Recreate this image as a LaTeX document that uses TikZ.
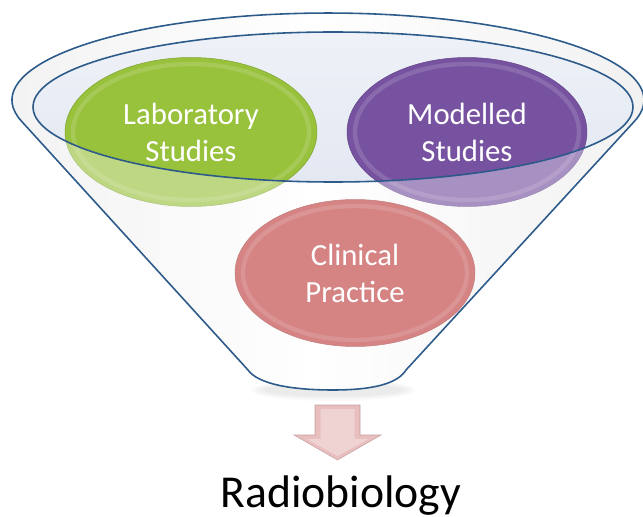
\documentclass[tikz,border=0pt]{standalone}
\usepackage{fontspec}
\setmainfont{Carlito}
\usetikzlibrary{shapes.geometric}
\usetikzlibrary{positioning}

\definecolor{rimblue}{RGB}{44,90,138}
\definecolor{bowl}{RGB}{227,232,242}
\definecolor{labgreen}{RGB}{152,193,60}
\definecolor{modpurple}{RGB}{118,82,160}
\definecolor{clinred}{RGB}{190,62,62}
\definecolor{arrowpink}{RGB}{232,190,190}

\begin{document}
\begin{tikzpicture}[x=0.02cm, y=-0.02cm,
  rim/.style={draw=rimblue, line width=0.9pt},
  bubble/.style={ellipse, fill=#1, draw=#1!85!black, line width=0.3pt, text=white, align=center, inner sep=0pt,
    font=\fontsize{17.5}{21}\selectfont},
  gloss/.style={draw=white, opacity=0.14, line width=2.5pt},
  front/.style={fill=white, opacity=0.36, even odd rule}]
        \useasboundingbox (0,0) rectangle (643,517);

        % Soft shadow under the funnel tip
        \foreach \s in {1,...,4}
          \fill[black, opacity=0.02] (333,390) ellipse [x radius={66+4*\s}, y radius={5+1.5*\s}];

        % Draw the funnel body
        \fill[left color=black!8, right color=black!8, middle color=white]
          (21.4,121.1) arc[start angle=166, end angle=374.2, x radius=316, y radius=87]
          -- (406,370) .. controls (398,383) and (375,390) .. (333,390)
          .. controls (291,390) and (258,384) .. (248,370) -- cycle;

        % Inside of the rim
        \fill[top color=bowl!60!white, bottom color=bowl] (333,107) ellipse [x radius=300, y radius=75];

        % Draw the three sources
        \node[bubble=labgreen, minimum width=5.04cm, minimum height=2.98cm] (lab) at (191,132) {Laboratory\\Studies};
        \node[bubble=modpurple, minimum width=4.8cm, minimum height=2.98cm] (mod) at (467,132) {Modelled\\Studies};
        \node[bubble=clinred, minimum width=4.8cm, minimum height=2.94cm] (clin) at (355,273) {Clinical\\Practice};

        % Bevel highlight on each source
        \foreach \nm/\rx/\ry in {lab/118/68, mod/112/68, clin/112/67}
          \draw[gloss] (\nm.center) ellipse [x radius=\rx, y radius=\ry];

        % Front wall of the funnel over the lower halves
        \fill[front]
          (21.4,121.1) arc[start angle=166, end angle=374.2, x radius=316, y radius=87]
          -- (406,370) .. controls (398,383) and (375,390) .. (333,390)
          .. controls (291,390) and (258,384) .. (248,370) -- cycle
          (333,107) ellipse [x radius=300, y radius=75];

        % Outlines of the funnel and its rim
        \draw[rim, line join=round]
          (21.4,121.1) arc[start angle=166, end angle=374.2, x radius=316, y radius=87]
          -- (406,370) .. controls (398,383) and (375,390) .. (333,390)
          .. controls (291,390) and (258,384) .. (248,370) -- cycle;
        \draw[rim] (333,107) ellipse [x radius=300, y radius=75];

        % Down arrow
        \begin{scope}[shift={(337.5,405)}]
          \fill[arrowpink, draw=arrowpink!85!black, line width=0.3pt]
            (-22.5,0) -- (22.5,0) -- (22.5,30) -- (43.5,30) -- (0,55) -- (-43.5,30) -- (-22.5,30) -- cycle;
          \fill[arrowpink!70!white]
            (-17,4) -- (17,4) -- (17,34) -- (31,34) -- (0,51) -- (-31,34) -- (-17,34) -- cycle;
        \end{scope}

        % Result
        \node[font=\fontsize{26}{30}\selectfont, anchor=base] (res) at (341,507) {Radiobiology};
\end{tikzpicture}
\end{document}
